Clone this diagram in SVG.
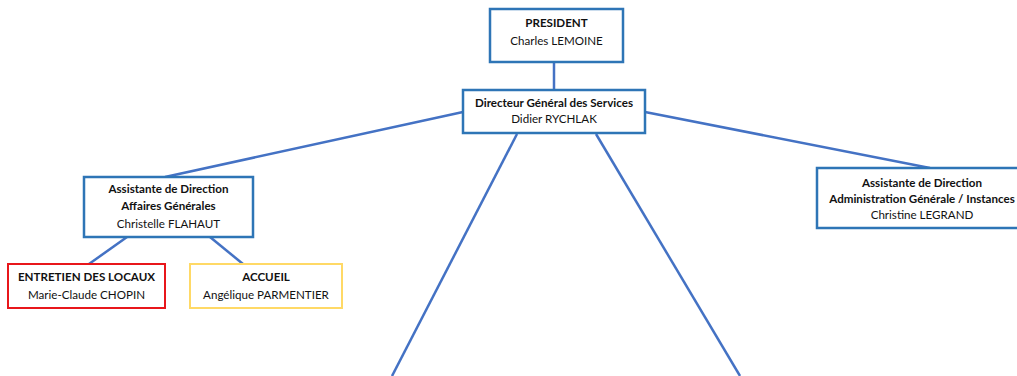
<svg xmlns="http://www.w3.org/2000/svg" width="1017" height="376" viewBox="0 0 1017 376">
<style>
.box{fill:#fff;stroke:#2E75B6;stroke-width:2.5}
.red{stroke:#E8161B;stroke-width:2}
.yel{stroke:#FFD966;stroke-width:2}
.con{stroke:#4472C4;stroke-width:2.5;fill:none}
text{font-family:Lato,"Open Sans",sans-serif;font-size:11.6px;fill:#111;text-anchor:middle}
.b{font-weight:bold}
</style>
<rect width="1017" height="376" fill="#fff"/>
<g id="connectors">
<line class="con" x1="554" y1="62" x2="554" y2="90"/>
<line class="con" x1="463" y1="112" x2="165" y2="177"/>
<line class="con" x1="645" y1="112" x2="930" y2="168"/>
<line class="con" x1="127" y1="237" x2="89" y2="264"/>
<line class="con" x1="210" y1="237" x2="243" y2="264"/>
<line class="con" x1="517" y1="134" x2="392" y2="376"/>
<line class="con" x1="596" y1="134" x2="740" y2="376"/>
</g>
<g id="president">
<rect class="box" x="490" y="9" width="133" height="53"/>
<text class="b" x="556.5" y="27">PRESIDENT</text>
<text x="556.5" y="45">Charles LEMOINE</text>
</g>
<g id="dgs">
<rect class="box" x="463" y="90" width="182" height="43"/>
<text class="b" x="554" y="107">Directeur Général des Services</text>
<text x="554" y="123">Didier RYCHLAK</text>
</g>
<g id="assist-ag">
<rect class="box" x="84" y="177" width="169" height="60"/>
<text class="b" x="168.5" y="193">Assistante de Direction</text>
<text class="b" x="168.5" y="210">Affaires Générales</text>
<text x="168.5" y="228">Christelle FLAHAUT</text>
</g>
<g id="assist-admin">
<rect class="box" x="817" y="168" width="210" height="60"/>
<text class="b" x="922" y="187">Assistante de Direction</text>
<text class="b" x="922" y="203">Administration Générale / Instances</text>
<text x="922" y="219">Christine LEGRAND</text>
</g>
<g id="entretien">
<rect class="box red" x="8" y="264" width="157" height="44"/>
<text class="b" x="86.5" y="281">ENTRETIEN DES LOCAUX</text>
<text x="86.5" y="299">Marie-Claude CHOPIN</text>
</g>
<g id="accueil">
<rect class="box yel" x="190" y="264" width="152" height="44"/>
<text class="b" x="266" y="281">ACCUEIL</text>
<text x="266" y="299">Angélique PARMENTIER</text>
</g>
</svg>
